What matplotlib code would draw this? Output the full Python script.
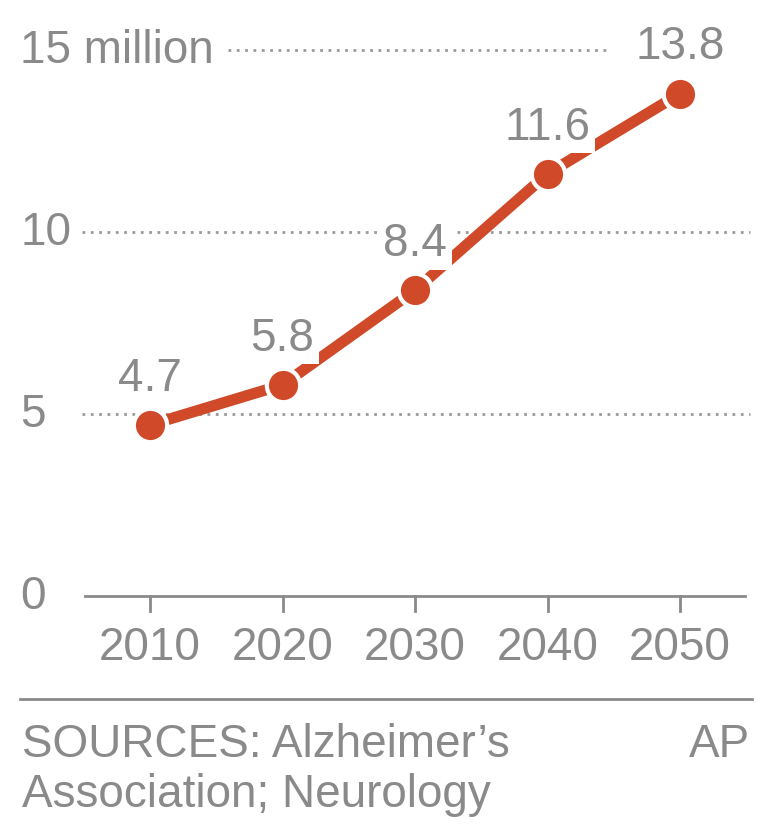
import matplotlib
matplotlib.use("Agg")
import matplotlib.pyplot as plt

years = [2010, 2020, 2030, 2040, 2050]
values = [4.7, 5.8, 8.4, 11.6, 13.8]
labels = ["4.7", "5.8", "8.4", "11.6", "13.8"]
yticks = [0, 5, 10, 15]
ytick_labels = ["0", "5", "10", "15 million"]

W, H = 780, 829
fig = plt.figure(figsize=(W/100, H/100), dpi=100)
ax = fig.add_axes([0, 0, 1, 1])
ax.axis("off")
ppx = 13.25
ppy = 36.4
x0, y0 = 150, 597
def px2x(p): return 2010 + (p - x0) / ppx
def px2y(p): return (y0 - p) / ppy
ax.set_xlim(px2x(0), px2x(W))
ax.set_ylim(px2y(H), px2y(0))

plt.rcParams["font.family"] = "Liberation Sans"
gray = "#8a8a8a"
fs = 33
ax.plot([px2x(228), px2x(610)], [15, 15], color="#999999", ls=(0, (1, 2)), lw=2)
for v in [10, 5]:
    ax.plot([px2x(82), px2x(750)], [v, v], color="#999999", ls=(0, (1, 2)), lw=2)
ax.plot([px2x(85), px2x(745)], [0, 0], color=gray, lw=2)
for yr in years:
    ax.plot([yr, yr], [0, px2y(612)], color=gray, lw=2)
    ax.text(yr, px2y(648), str(yr), ha="center", va="center", fontsize=fs, color=gray)
for v, t in zip(yticks, ytick_labels):
    ax.text(px2x(20), v, t, ha="left", va="center", fontsize=fs, color=gray)

ax.plot(years, values, color="#d04a2a", lw=8, marker="o", ms=24,
        markerfacecolor="#d04a2a", markeredgecolor="white", markeredgewidth=3, zorder=5)
for yr, v, l in zip(years, values, labels):
    ax.annotate(l, (yr, v), xytext=(0, 34), textcoords="offset points", ha="center",
                va="center", fontsize=fs, color=gray,
                bbox=dict(boxstyle="square,pad=0.1", fc="white", ec="none"), zorder=6)

ax.plot([px2x(20), px2x(752)], [px2y(700), px2y(700)], color=gray, lw=2)
ax.text(px2x(22), px2y(745), "SOURCES: Alzheimer\u2019s", ha="left", va="center", fontsize=fs, color=gray)
ax.text(px2x(22), px2y(795), "Association; Neurology", ha="left", va="center", fontsize=fs, color=gray)
ax.text(px2x(750), px2y(745), "AP", ha="right", va="center", fontsize=fs, color=gray)

fig.savefig("out.png", dpi=100)
